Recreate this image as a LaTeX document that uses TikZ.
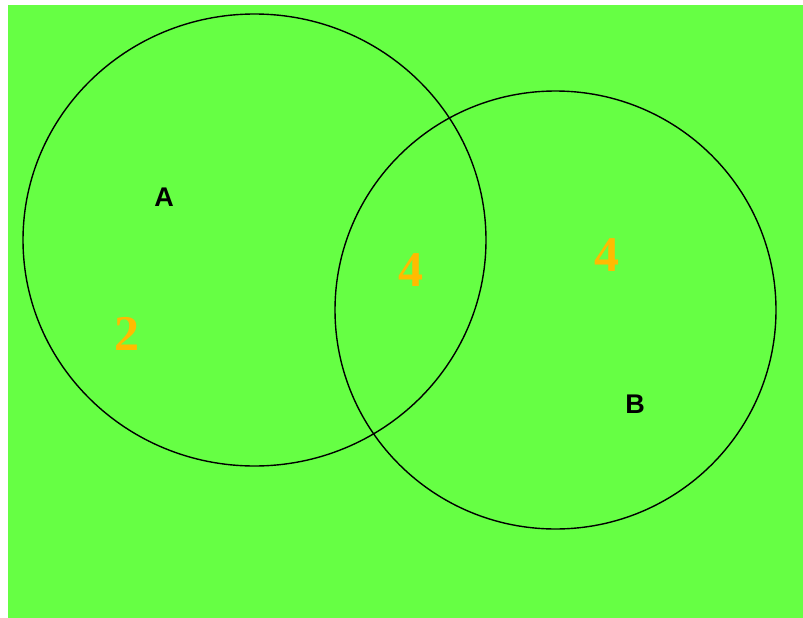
\documentclass[tikz,border=0pt]{standalone}
\usepackage{fontspec}
\setmainfont{Liberation Serif}
\newfontfamily\labelfont{Liberation Sans}
\usepackage{tikz}
\definecolor{venngreen}{RGB}{102,255,68}
\definecolor{vennorange}{RGB}{255,187,0}
\tikzset{
    setname/.style={font=\labelfont\bfseries\fontsize{27}{27}\selectfont, text=black, inner sep=0pt},
    count/.style={font=\bfseries\fontsize{50}{50}\selectfont, text=vennorange, inner sep=0pt}
}

\begin{document}
\begin{tikzpicture}[x=1pt, y=-1pt]
    \useasboundingbox (0, 0) rectangle (803, 618);
    \fill[white] (0, 0) rectangle (803, 618);
    \fill[venngreen] (8, 5) rectangle (803, 618);
    % the two sets
    \draw[line width=1.4pt] (254.5, 240) ellipse [x radius=231.5, y radius=226];
    \draw[line width=1.4pt] (555.5, 310) ellipse [x radius=220.5, y radius=219];
    \node[setname] (labelA) at (164, 197) {A};
    \node[setname] (labelB) at (635, 404) {B};
    \node[count] (onlyA) at (127, 334) {2};
    \node[count] (both) at (411, 270) {4};
    \node[count] (onlyB) at (607, 255) {4};
\end{tikzpicture}
\end{document}
